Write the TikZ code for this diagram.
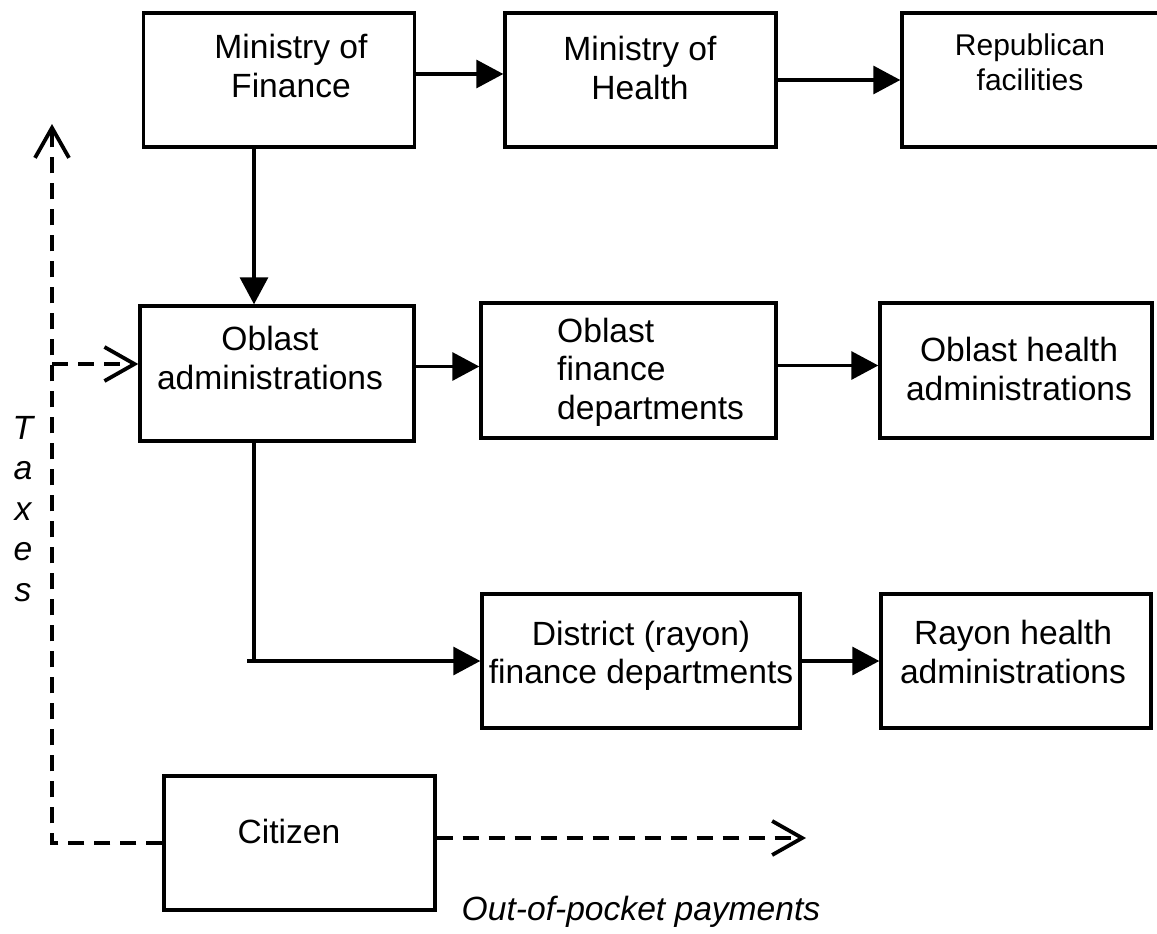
\documentclass[tikz,border=0pt]{standalone}
\usepackage{fontspec}
\setmainfont{Liberation Sans}
\usetikzlibrary{arrows.meta,calc}
\tikzset{
  box/.style={draw, line width=3.4pt, rectangle, inner sep=0pt},
  lbl/.style={align=center, font=\fontsize{33.6}{38.5}\selectfont, inner sep=0pt},
  slanted/.style={lbl, font=\fontsize{33.6}{40.5}\selectfont\itshape},
  flow/.style={line width=3.2pt, -{Triangle[length=27pt,width=28pt]}},
  plainline/.style={line width=3.2pt},
  money/.style={line width=3.4pt, dash pattern=on 16pt off 10pt},
  moneyarrow/.style={money, -{Straight Barb[length=30pt,width=34pt,line width=3.8pt]}},
}
\begin{document}
\begin{tikzpicture}[x=1pt,y=-1pt]
\useasboundingbox (0,0) rectangle (1157,934);
\clip (0,0) rectangle (1157,934);
\fill[white] (0,0) rectangle (1157,934);

% boxes
\node[box, minimum width=271pt, minimum height=134pt] (mof)  at (279,80) {};
\node[box, minimum width=271pt, minimum height=134pt] (moh)  at (640.5,80) {};
\node[box, minimum width=263pt, minimum height=134pt] (rep)  at (1033.5,80) {};
\node[box, minimum width=274pt, minimum height=135pt] (oadm) at (277,373.5) {};
\node[box, minimum width=295pt, minimum height=135pt] (ofin) at (628.5,370.5) {};
\node[box, minimum width=272pt, minimum height=135pt] (ohlt) at (1016,370.5) {};
\node[box, minimum width=318pt, minimum height=134pt] (dist) at (641,661) {};
\node[box, minimum width=270pt, minimum height=134pt] (rayh) at (1016,661) {};
\node[box, minimum width=271pt, minimum height=134pt] (cit)  at (299.5,843) {};

% box texts
\node[lbl] (mof-t)  at (291,66)  {Ministry of\\Finance};
\node[lbl] (moh-t)  at (640,68)  {Ministry of\\Health};
\node[lbl, font=\fontsize{30}{35}\selectfont] (rep-t) at (1030,62) {Republican\\facilities};
\node[lbl] (oadm-t) at (270,358) {Oblast\\administrations};
\node[lbl, align=left, anchor=west] (ofin-t) at (557,372) {Oblast\\finance\\departments};
\node[lbl] (ohlt-t) at (1019,369) {Oblast health\\administrations};
\node[lbl] (dist-t) at (641,656) {District (rayon)\\finance departments};
\node[lbl] (rayh-t) at (1013,652) {Rayon health\\administrations};
\node[lbl] (cit-t)  at (289,831) {Citizen};

% budget flows
\draw[flow] ($(mof.east)+(0,-6)$) coordinate (f1) -- (f1 -| moh.west);
\draw[flow] (moh.east) -- (rep.west);
\coordinate (mofdown) at ($(mof.south)+(-25,0)$);
\draw[flow] (mofdown) -- (mofdown |- oadm.north);
\draw[flow] ($(oadm.east)+(0,-7)$) coordinate (f2) -- (f2 -| ofin.west);
\draw[flow] ($(ofin.east)+(0,-5)$) coordinate (f3) -- (f3 -| ohlt.west);
\coordinate (oadmdown) at ($(oadm.south)+(-23,0)$);
\coordinate (corner) at (oadmdown |- dist.west);
\draw[plainline] (oadmdown) -- (corner);
\draw[flow] ($(corner)+(-7,0)$) -- (dist.west);
\draw[flow] (dist.east) -- (rayh.west);

% citizen payments
\coordinate (taxtop) at (52,124);
\coordinate (taxbranch) at (52,364);
\coordinate (oop) at (806,838);
\draw[moneyarrow] (cit.west) -| (taxtop);
\draw[moneyarrow] (taxbranch) -- (taxbranch -| oadm.west);
\draw[moneyarrow] ($(cit.east)+(0,-5)$) -- (oop);

% labels
\node[slanted] (taxes) at (23,509) {T\\a\\x\\e\\s};
\node[slanted] (oop-t) at (641,912) {Out-of-pocket payments};
\end{tikzpicture}
\end{document}
